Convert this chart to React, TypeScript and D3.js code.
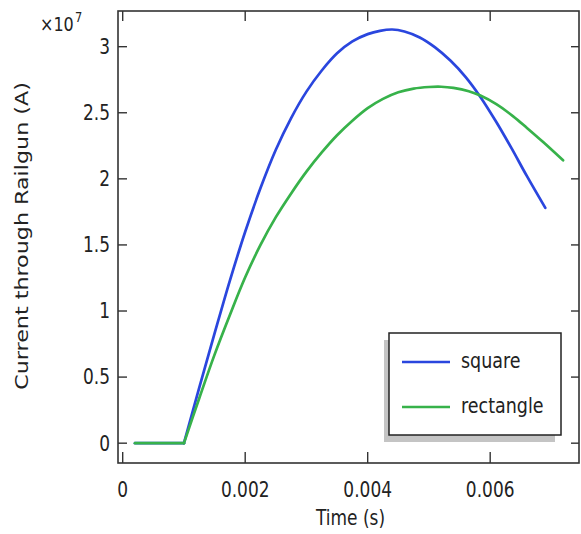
import { useEffect, useRef } from "react";
import * as d3 from "d3";

// current values are in units of 1e7 A (the axis shows x10^7)
const squareTime = [0.0002, 0.001, 0.00125, 0.0015, 0.00175, 0.002, 0.00225, 0.0025, 0.00275, 0.003, 0.00325, 0.0035, 0.00375, 0.004, 0.0042, 0.0044, 0.0046, 0.00485, 0.0051, 0.00535, 0.0056, 0.00584, 0.0061, 0.00635, 0.0066, 0.0069];
const squareCurrent = [0, 0, 0.42, 0.83, 1.23, 1.6, 1.93, 2.22, 2.46, 2.66, 2.82, 2.95, 3.04, 3.095, 3.12, 3.13, 3.115, 3.07, 2.995, 2.895, 2.77, 2.62, 2.43, 2.23, 2.02, 1.78];

const rectTime = [0.0002, 0.001, 0.00125, 0.0015, 0.00175, 0.002, 0.00225, 0.0025, 0.00275, 0.003, 0.00325, 0.0035, 0.00375, 0.004, 0.00425, 0.0045, 0.00475, 0.005, 0.0052, 0.0054, 0.00565, 0.00584, 0.0061, 0.00637, 0.0066, 0.00686, 0.00719];
const rectCurrent = [0, 0, 0.34, 0.67, 0.97, 1.255, 1.5, 1.71, 1.89, 2.055, 2.2, 2.33, 2.44, 2.535, 2.605, 2.655, 2.683, 2.695, 2.697, 2.688, 2.663, 2.63, 2.565, 2.475, 2.385, 2.28, 2.14];

const xTicks = [0, 0.002, 0.004, 0.006];
const xTickLabels = ["0", "0.002", "0.004", "0.006"];
const yTicks = [0, 0.5, 1, 1.5, 2, 2.5, 3];
const yTickLabels = ["0", "0.5", "1", "1.5", "2", "2.5", "3"];

const seriesNames = ["square", "rectangle"];
const seriesColors = ["#2a46de", "#37b24a"];

export default function App() {
  const svgRef = useRef<SVGSVGElement>(null);

  useEffect(() => {
    const W = 581;
    const H = 534;
    const box = { left: 118, right: 579, top: 11, bottom: 463 };
    const font = "'DejaVu Sans', sans-serif";
    const sy = 1.2; // picture is stretched vertically

    const root = d3.select(svgRef.current);
    root.selectAll("*").remove();
    const svg = root.attr("width", W).attr("height", H);

    svg.append("rect").attr("width", W).attr("height", H).attr("fill", "white");

    const x = d3.scaleLinear().domain([-0.0000767, 0.00745]).range([box.left, box.right]);
    const y = d3.scaleLinear().domain([-0.15, 3.27]).range([box.bottom, box.top]);

    const series = [
      { t: squareTime, v: squareCurrent },
      { t: rectTime, v: rectCurrent },
    ];

    const flatLine = d3.line<[number, number]>().x(d => x(d[0])).y(d => y(d[1]));
    const riseLine = d3.line<[number, number]>()
      .x(d => x(d[0]))
      .y(d => y(d[1]))
      .curve(d3.curveCatmullRom.alpha(0.5));

    series.forEach((s, k) => {
      const pts: [number, number][] = s.t.map((t, i) => [t, s.v[i]]);
      const g = svg.append("g")
        .attr("fill", "none")
        .attr("stroke", seriesColors[k])
        .attr("stroke-width", 2.7)
        .attr("stroke-linecap", "round")
        .attr("stroke-linejoin", "round");
      // flat part is straight, the pulse starts with a sharp corner
      g.append("path").attr("d", flatLine(pts.slice(0, 2)));
      g.append("path").attr("d", riseLine(pts.slice(1)));
    });

    // frame
    svg.append("rect")
      .attr("x", box.left)
      .attr("y", box.top)
      .attr("width", box.right - box.left)
      .attr("height", box.bottom - box.top)
      .attr("fill", "none")
      .attr("stroke", "#333")
      .attr("stroke-width", 1.6);

    const tickCol = "#333";
    xTicks.forEach(t => {
      svg.append("line")
        .attr("x1", x(t)).attr("x2", x(t))
        .attr("y1", box.bottom).attr("y2", box.bottom - 11)
        .attr("stroke", tickCol).attr("stroke-width", 1.4);
      svg.append("line")
        .attr("x1", x(t)).attr("x2", x(t))
        .attr("y1", box.top).attr("y2", box.top + 10)
        .attr("stroke", tickCol).attr("stroke-width", 1.4);
    });
    yTicks.forEach(v => {
      svg.append("line")
        .attr("x1", box.left).attr("x2", box.left + 9)
        .attr("y1", y(v)).attr("y2", y(v))
        .attr("stroke", tickCol).attr("stroke-width", 1.4);
      svg.append("line")
        .attr("x1", box.right).attr("x2", box.right - 8)
        .attr("y1", y(v)).attr("y2", y(v))
        .attr("stroke", tickCol).attr("stroke-width", 1.4);
    });

    const txtCol = "#222";
    xTicks.forEach((t, i) => {
      svg.append("text")
        .attr("transform", `translate(${x(t)},497) scale(1,${sy})`)
        .attr("text-anchor", "middle")
        .attr("font-family", font)
        .attr("font-size", 17)
        .attr("fill", txtCol)
        .text(xTickLabels[i]);
    });
    yTicks.forEach((v, i) => {
      svg.append("text")
        .attr("transform", `translate(110,${y(v)}) scale(1,${sy})`)
        .attr("dy", "0.36em")
        .attr("text-anchor", "end")
        .attr("font-family", font)
        .attr("font-size", 17)
        .attr("fill", txtCol)
        .text(yTickLabels[i]);
    });

    // exponent
    svg.append("text")
      .attr("transform", `translate(40,31) scale(1,${sy})`)
      .attr("font-family", font)
      .attr("font-size", 16)
      .attr("fill", txtCol)
      .text("×10");
    svg.append("text")
      .attr("transform", `translate(75,22) scale(1,${sy})`)
      .attr("font-family", font)
      .attr("font-size", 11.5)
      .attr("fill", txtCol)
      .text("7");

    // axis titles
    svg.append("text")
      .attr("transform", `translate(${(box.left + box.right) / 2 + 2},525) scale(1,${sy})`)
      .attr("text-anchor", "middle")
      .attr("font-family", font)
      .attr("font-size", 17)
      .attr("fill", txtCol)
      .text("Time (s)");
    svg.append("text")
      .attr("transform", `translate(28,236) scale(1,1.27) rotate(-90)`)
      .attr("text-anchor", "middle")
      .attr("font-family", font)
      .attr("font-size", 17.5)
      .attr("fill", txtCol)
      .text("Current through Railgun (A)");

    // legend
    const lg = svg.append("g");
    lg.append("rect")
      .attr("x", 384).attr("y", 340)
      .attr("width", 171).attr("height", 102)
      .attr("fill", "#c4c4c4");
    lg.append("rect")
      .attr("x", 389).attr("y", 333)
      .attr("width", 172).attr("height", 102)
      .attr("fill", "white")
      .attr("stroke", "#222")
      .attr("stroke-width", 1.5);

    seriesNames.forEach((name, i) => {
      const ly = 362 + i * 45;
      lg.append("line")
        .attr("x1", 402).attr("x2", 450)
        .attr("y1", ly).attr("y2", ly)
        .attr("stroke", seriesColors[i])
        .attr("stroke-width", 2.7);
      lg.append("text")
        .attr("transform", `translate(461,${ly + 6}) scale(1,${sy})`)
        .attr("font-family", font)
        .attr("font-size", 17.5)
        .attr("fill", txtCol)
        .text(name);
    });
  }, []);

  return <svg ref={svgRef} style={{ position: "absolute", left: 0, top: 0, display: "block" }} />;
}
